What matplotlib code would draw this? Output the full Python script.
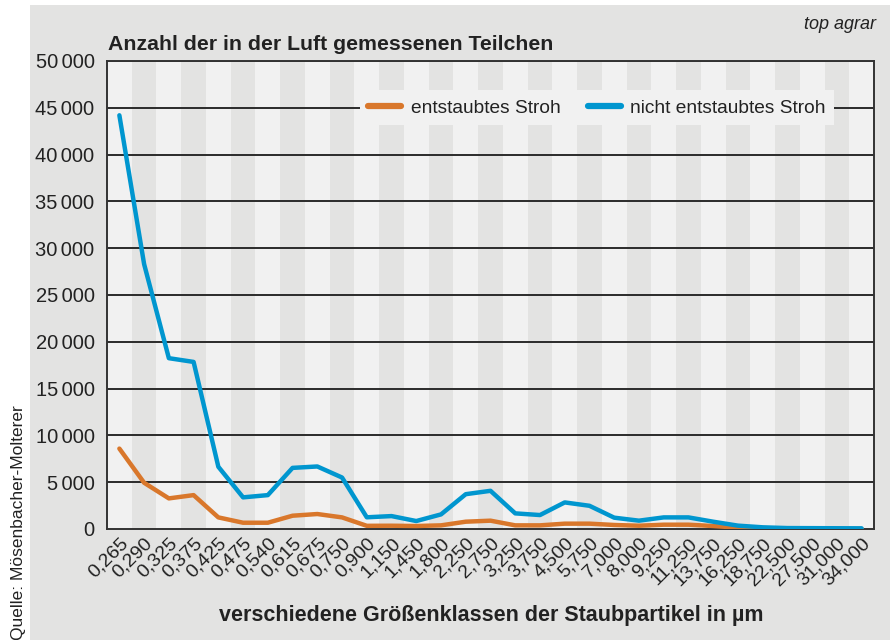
"""Anzahl der in der Luft gemessenen Teilchen: entstaubtes vs. nicht entstaubtes Stroh."""

import matplotlib

matplotlib.use("Agg")
import matplotlib.pyplot as plt
import numpy as np
from matplotlib.patches import Rectangle

SIZE_CLASSES = [
    "0,265", "0,290", "0,325", "0,375", "0,425", "0,475", "0,540", "0,615",
    "0,675", "0,750", "0,900", "1,150", "1,450", "1,800", "2,250", "2,750",
    "3,250", "3,750", "4,500", "5,750", "7,000", "8,000", "9,250", "11,250",
    "13,750", "16,250", "18,750", "22,500", "27,500", "31,000", "34,000",
]
ENTSTAUBT = [
    8590, 4940, 3270, 3620, 1240, 670, 670, 1420, 1600, 1240, 340,
    350, 320, 390, 780, 890, 390, 390, 570, 570, 430, 350, 460, 460,
    320, 140, 70, 40, 20, 10, 10,
]
NICHT_ENTSTAUBT = [
    44200, 28300, 18250, 17850, 6650, 3380, 3620, 6530, 6680, 5500, 1250,
    1380, 850, 1560, 3720, 4080, 1670, 1490, 2840, 2480, 1210, 890, 1240,
    1240, 780, 360, 180, 100, 90, 80, 70,
]
Y_TICKS = [0, 5000, 10000, 15000, 20000, 25000, 30000, 35000, 40000, 45000, 50000]

ORANGE = "#d9772b"
BLUE = "#0096cf"
PANEL = "#e3e3e2"
LIGHT = "#f1f1f1"
INK = "#222222"


def main() -> None:
    plt.rcParams["font.family"] = ["Liberation Sans", "DejaVu Sans"]

    fig = plt.figure(figsize=(8.9, 6.4), dpi=100, facecolor="white")
    # grey panel behind everything, leaving a white strip on the left and top
    fig.patches.append(
        Rectangle((30 / 890, 0), 1 - 30 / 890, 1 - 5 / 640,
                  transform=fig.transFigure, facecolor=PANEL, edgecolor="none", zorder=-10)
    )

    ax = fig.add_axes([107 / 890, 111 / 640, 767 / 890, 468 / 640])
    ax.set_facecolor(LIGHT)

    x = np.arange(len(SIZE_CLASSES))
    for i in x[1::2]:
        ax.axvspan(i - 0.5, i + 0.5, color=PANEL, lw=0, zorder=0)
    for v in Y_TICKS[1:]:
        ax.axhline(v, color="#2a2a2a", lw=1.4, zorder=1)

    ax.plot(x, ENTSTAUBT, color=ORANGE, lw=3.2, solid_capstyle="round",
            solid_joinstyle="round", zorder=3, label="entstaubtes Stroh")
    ax.plot(x, NICHT_ENTSTAUBT, color=BLUE, lw=3.2, solid_capstyle="round",
            solid_joinstyle="round", zorder=4, label="nicht entstaubtes Stroh")

    ax.set_xlim(-0.5, len(SIZE_CLASSES) - 0.5)
    ax.set_ylim(0, 50000)
    ax.set_yticks(Y_TICKS)
    # narrow gap as thousands separator
    ax.set_yticklabels([f"{v:,}".replace(",", "\u2006") for v in Y_TICKS], fontsize=14.5, color=INK)
    ax.set_xticks(x)
    ax.set_xticklabels(SIZE_CLASSES, rotation=45, ha="right", va="top",
                       rotation_mode="anchor", fontsize=14, color=INK)
    ax.tick_params(axis="both", length=0)
    ax.tick_params(axis="y", pad=9)
    ax.tick_params(axis="x", pad=4)
    for spine in ax.spines.values():
        spine.set_color("#333333")
        spine.set_linewidth(1.4)

    leg = ax.legend(loc="center", bbox_to_anchor=(0.639, 0.9), ncol=2, fontsize=13.8,
                    frameon=True, facecolor=LIGHT, edgecolor="none", framealpha=1,
                    fancybox=False, handlelength=1.7, handletextpad=0.5,
                    columnspacing=1.45, borderpad=0.45)
    leg.set_zorder(5)
    for line in leg.get_lines():
        line.set_linewidth(4.5)
        line.set_solid_capstyle("round")
    for t in leg.get_texts():
        t.set_color(INK)

    fig.text(108 / 890, 1 - 50 / 640, "Anzahl der in der Luft gemessenen Teilchen",
             fontsize=15.3, fontweight="bold", color=INK, ha="left", va="baseline")
    fig.text(491 / 890, 1 - 621 / 640, "verschiedene Größenklassen der Staubpartikel in µm",
             fontsize=15.5, fontweight="bold", color=INK, ha="center", va="baseline")
    fig.text(876 / 890, 1 - 29 / 640, "top agrar", fontsize=13, style="italic",
             color=INK, ha="right", va="baseline")
    fig.text(19 / 890, 0.0, "Quelle: Mösenbacher-Molterer", fontsize=12.5, rotation=90,
             color=INK, ha="center", va="bottom")

    fig.savefig("out.png", dpi=100, facecolor=fig.get_facecolor())


if __name__ == "__main__":
    main()
